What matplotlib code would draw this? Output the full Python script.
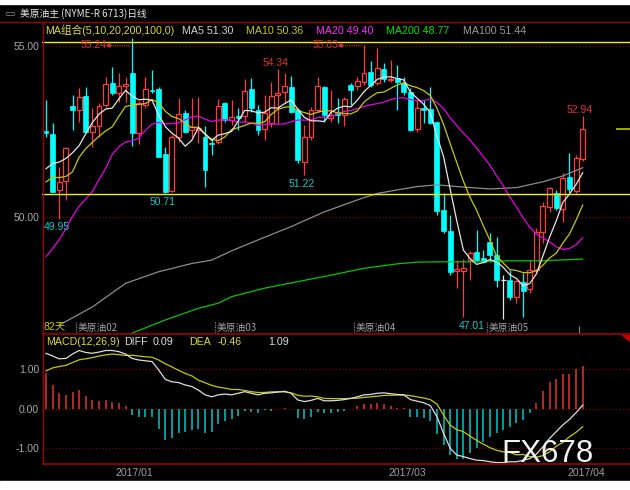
import matplotlib
matplotlib.use("Agg")
import matplotlib.pyplot as plt
from matplotlib.patches import Rectangle, Polygon
import numpy as np

# daily candles of the oil main contract, 82 days
opens = [52.52, 52.43, 50.79, 51.06, 53.25, 53.13, 53.55, 52.49, 52.66, 53.27,
         53.91, 53.63, 53.84, 54.20, 52.46, 53.27, 53.71, 53.73, 51.83, 50.77,
         52.35, 53.03, 52.54, 52.55, 52.35, 52.17, 52.20, 53.34, 52.84, 52.95,
         52.95, 53.73, 53.13, 52.56, 52.74, 53.57, 53.66, 53.79, 53.13, 51.62,
         52.35, 53.13, 53.79, 52.89, 53.05, 52.98, 53.86, 53.83, 53.96, 54.25,
         53.91, 54.32, 54.01, 54.06, 53.93, 53.66, 52.56, 53.18, 53.15, 52.79,
         50.20, 49.60, 48.43, 48.43, 48.74, 48.99, 48.79, 49.26, 48.89, 48.17,
         48.16, 47.67, 48.11, 47.89, 48.45, 49.57, 50.30, 50.69, 50.23, 51.18,
         50.77, 51.69]
highs = [53.42, 52.74, 51.47, 52.06, 53.57, 53.76, 53.81, 53.18, 53.32, 54.08,
         54.38, 54.20, 54.10, 55.24, 53.40, 54.10, 54.30, 53.81, 52.06, 52.40,
         53.47, 53.13, 53.47, 53.50, 52.66, 52.27, 53.44, 53.37, 53.42, 53.18,
         54.03, 54.06, 53.27, 53.57, 53.96, 54.34, 54.20, 54.12, 53.18, 52.69,
         53.23, 54.10, 53.83, 53.71, 53.47, 53.52, 53.93, 54.10, 55.03, 54.57,
         54.93, 54.49, 54.59, 54.44, 54.10, 53.76, 53.42, 53.42, 53.79, 52.82,
         50.69, 50.06, 48.74, 48.76, 49.01, 49.62, 49.03, 49.52, 49.42, 48.30,
         48.45, 48.16, 48.35, 48.74, 49.67, 50.45, 50.89, 50.79, 51.30, 51.88,
         51.81, 52.94]
lows = [52.35, 50.72, 49.95, 50.50, 52.54, 52.79, 52.46, 52.06, 52.35, 53.23,
        53.57, 53.37, 53.37, 52.08, 52.13, 53.18, 53.62, 51.75, 50.71, 50.74,
        52.20, 52.46, 52.35, 52.15, 50.89, 51.81, 52.13, 52.79, 52.69, 52.54,
        52.79, 53.08, 52.40, 52.25, 52.62, 52.74, 53.32, 53.03, 51.59, 51.22,
        52.25, 53.08, 52.79, 52.79, 52.74, 52.66, 53.27, 53.71, 53.86, 53.81,
        53.86, 53.96, 53.96, 53.13, 53.57, 52.52, 52.49, 52.74, 52.72, 50.06,
        49.52, 48.30, 47.92, 47.09, 48.16, 48.69, 48.65, 48.69, 47.96, 47.01,
        47.57, 47.48, 47.07, 47.79, 48.37, 49.23, 50.16, 50.20, 49.86, 50.74,
        50.69, 51.65]
closes = [52.46, 50.74, 51.03, 52.03, 53.13, 53.50, 52.49, 52.66, 53.25, 53.89,
          53.63, 53.84, 53.89, 52.45, 53.32, 53.73, 53.68, 51.76, 50.74, 52.35,
          53.01, 52.49, 52.62, 52.60, 51.37, 52.13, 53.25, 52.84, 52.92, 52.89,
          53.69, 53.18, 52.54, 53.03, 53.54, 53.63, 53.83, 53.08, 51.67, 52.35,
          53.13, 53.83, 52.98, 52.98, 52.98, 53.44, 53.71, 53.99, 54.22, 53.86,
          54.35, 54.03, 54.04, 53.96, 53.66, 52.54, 53.18, 53.13, 52.76, 50.18,
          49.60, 48.40, 48.47, 48.50, 48.96, 48.74, 48.69, 48.89, 48.16, 48.17,
          47.65, 48.14, 47.85, 48.45, 49.57, 50.32, 50.84, 50.25, 51.13, 50.81,
          51.72, 52.56]
# closes of the 19 days before the window, only needed to start MA5/10/20
prior_closes = [46.0, 45.8, 45.6, 45.9, 47.7, 48.2, 48.2, 46.3, 47.3, 45.5,
                49.4, 51.1, 51.7, 51.8, 49.2, 50.0, 50.8, 51.5, 52.3]

# long averages, read at some days
ma100_days = [2, 7, 12, 17, 22, 25, 28, 32, 37, 42, 47, 50, 56, 59, 62, 67, 71, 75, 78, 81]
ma100_vals = [46.84, 47.37, 48.06, 48.40, 48.64, 48.74, 49.01, 49.33, 49.72, 50.15,
              50.50, 50.69, 50.89, 50.94, 50.89, 50.82, 50.86, 51.03, 51.20, 51.44]
ma200_days = [11, 18, 23, 26, 28, 33, 38, 43, 48, 53, 56, 60, 65, 70, 75, 81]
ma200_vals = [46.45, 46.99, 47.33, 47.48, 47.67, 47.92, 48.11, 48.30, 48.50, 48.63,
              48.68, 48.69, 48.69, 48.72, 48.72, 48.77]

# drawn horizontal lines
level_lines = [55.13, 50.66]

# MACD(12,26,9)
diff = [1.40, 1.33, 1.26, 1.27, 1.38, 1.47, 1.42, 1.40, 1.43, 1.47,
        1.47, 1.44, 1.38, 1.27, 1.23, 1.21, 1.19, 0.98, 0.74, 0.68,
        0.66, 0.60, 0.56, 0.47, 0.35, 0.30, 0.35, 0.37, 0.35, 0.39,
        0.43, 0.39, 0.35, 0.39, 0.40, 0.42, 0.44, 0.39, 0.22, 0.18,
        0.21, 0.26, 0.20, 0.20, 0.21, 0.23, 0.26, 0.30, 0.35, 0.36,
        0.39, 0.40, 0.38, 0.36, 0.35, 0.23, 0.19, 0.15, 0.08, -0.20,
        -0.62, -1.00, -1.17, -1.21, -1.26, -1.30, -1.31, -1.34, -1.36, -1.36,
        -1.34, -1.34, -1.30, -1.26, -1.15, -0.96, -0.75, -0.58, -0.41, -0.27,
        -0.10, 0.09]
macd = [0.89, 0.60, 0.39, 0.35, 0.43, 0.47, 0.32, 0.22, 0.20, 0.22,
        0.18, 0.15, 0.07, -0.16, -0.20, -0.20, -0.22, -0.50, -0.79, -0.75,
        -0.62, -0.58, -0.54, -0.50, -0.61, -0.58, -0.39, -0.30, -0.27, -0.19,
        -0.06, -0.08, -0.12, -0.04, -0.05, -0.02, 0.03, -0.02, -0.24, -0.27,
        -0.22, -0.08, -0.12, -0.11, -0.09, -0.05, 0.0, 0.07, 0.13, 0.12,
        0.15, 0.13, 0.08, 0.03, 0.01, -0.20, -0.22, -0.24, -0.30, -0.64,
        -0.92, -1.17, -1.28, -1.26, -1.13, -1.00, -0.83, -0.71, -0.62, -0.54,
        -0.47, -0.35, -0.29, -0.10, 0.15, 0.45, 0.68, 0.74, 0.88, 0.88,
        0.99, 1.09]

contract_days = [4.5, 25.5, 46.5, 66.5]
contract_labels = ["美原油02", "美原油03", "美原油04", "美原油05"]
month_days = [13.3, 54.5, 81.5]
month_labels = ["2017/01", "2017/03", "2017/04"]

ma_legend = [("MA组合(5,10,20,200,100,0)", 45), ("MA5 51.30", 182), ("MA10 50.36", 246),
             ("MA20 49.40", 316), ("MA200 48.77", 386), ("MA100 51.44", 463)]
ma_legend_colors = ["#dcdc28", "#d2d2d2", "#c8c800", "#ff28ff", "#00e000", "#9a9a9a"]

RED = "#ff3c3c"
CYAN = "#00ffff"
FRAME = "#a00000"
GRIDC = "#8c0000"
TICKC = "#a8a8a8"
LATIN = ["Liberation Sans", "Noto Sans CJK SC"]
CJK = ["Noto Sans CJK SC", "DejaVu Sans"]

W, H = 630, 490


def box(x0, y0, x1, y1):
    return [x0 / W, 1 - y1 / H, (x1 - x0) / W, (y1 - y0) / H]


def px2day(px):
    return (px - 46) / 6.626


def py2price(py):
    return 55 - (py - 46) / 34.2


def py2macd(py):
    return (408.7 - py) / 39.6


fig = plt.figure(figsize=(6.3, 4.9), dpi=100, facecolor="black")

# ---- price panel ----
ax = fig.add_axes(box(42, 37, 630, 334), facecolor="black")
ax.set_xlim(px2day(42), px2day(630))
ax.set_ylim(py2price(334), py2price(37))
for s in ax.spines.values():
    s.set_visible(False)
ax.set_xticks([])
ax.set_yticks([50, 55])
ax.set_yticklabels(["50.00", "55.00"], family=LATIN)
ax.tick_params(axis="y", length=0, pad=2, labelcolor=TICKC, labelsize=7.5)
ax.grid(axis="y", color=GRIDC, linestyle=(0, (1, 2)), linewidth=0.8)
ax.set_axisbelow(True)

x = np.arange(len(closes))
o, h, l, c = (np.array(v) for v in (opens, highs, lows, closes))
up, down, flat = c > o, c < o, c == o
bw = 0.74
ax.vlines(x[down], l[down], h[down], color=CYAN, lw=0.9, zorder=2)
ax.bar(x[down], (o - c)[down], bottom=c[down], width=bw, color=CYAN,
       edgecolor=CYAN, lw=0.5, zorder=3)
ax.vlines(x[up], l[up], o[up], color=RED, lw=0.9, zorder=2)
ax.vlines(x[up], c[up], h[up], color=RED, lw=0.9, zorder=2)
ax.bar(x[up], (c - o)[up], bottom=o[up], width=bw, facecolor="black",
       edgecolor=RED, lw=0.9, zorder=3)
ax.vlines(x[flat], l[flat], h[flat], color="#e6e6e6", lw=0.9, zorder=2)
ax.hlines(c[flat], x[flat] - bw / 2, x[flat] + bw / 2, color="#e6e6e6", lw=0.9, zorder=3)

allc = np.array(prior_closes + closes)
n0 = len(prior_closes)


def ma(n):
    return np.array([allc[i - n + 1:i + 1].mean() for i in range(n0, len(allc))])


ax.plot(ma200_days, ma200_vals, color="#00c800", lw=0.9, zorder=4)
ax.plot(ma100_days, ma100_vals, color="#8c8c8c", lw=0.9, zorder=4)
ax.plot(x, ma(20), color="#e600e6", lw=0.9, zorder=4)
ax.plot(x, ma(10), color="#c8c800", lw=0.9, zorder=4)
ax.plot(x, ma(5), color="#e6e6e6", lw=0.9, zorder=4)
for lv in level_lines:
    ax.axhline(lv, color="#f0f000", lw=1.0, zorder=5)
ax.hlines(closes[-1], px2day(616), px2day(630), color="#b4b400", lw=1.3, zorder=5)

# high / low marks
for d in (13, 48):
    yl = py2price(44.5)
    ax.text(d - 3.9, yl, f"{highs[d]:.2f}", color="#e03232", fontsize=7.5, family=LATIN,
            ha="right", va="center", zorder=6)
    ax.plot([d - 3.6, d - 0.4], [yl, yl], color="#c83232", lw=0.8,
            linestyle=(0, (1, 1)), zorder=6)
    ax.plot([d - 3.6], [yl], marker="<", ms=2.5, color="#c83232", zorder=6)
ax.text(34.7, py2price(62.7), f"{highs[35]:.2f}", color="#e03232", fontsize=7.5,
        family=LATIN, ha="center", va="center", zorder=6)
ax.text(80.6, py2price(110), f"{highs[81]:.2f}", color="#e03232", fontsize=7.5,
        family=LATIN, ha="center", va="center", zorder=6)
for d, xp, yp in ((2, 57, 226.7), (18, 163, 201.7), (39, 302, 184)):
    ax.text(px2day(xp), py2price(yp), f"{lows[d]:.2f}", color="#1ec8c8", fontsize=7.5,
            family=LATIN, ha="center", va="center", zorder=6)
# the 47.01 low sits next to the contract label, kept just left of its tick
ax.text(px2day(485), py2price(326), f"{lows[69]:.2f}", color="#1ec8c8", fontsize=7.5,
        family=LATIN, ha="right", va="center", zorder=6)

for d, lab in zip(contract_days, contract_labels):
    ax.vlines(d, py2price(332), py2price(321), color="#8c8c8c", lw=0.8,
              linestyle=(0, (1, 1)), zorder=5)
    ax.text(d + 0.25, py2price(327.5), lab, color="#a0a0a0", fontsize=7, family=CJK,
            ha="left", va="center", zorder=5)
ax.vlines(80.5, py2price(334), py2price(326), color="#8c8c8c", lw=0.8, zorder=5)
ax.text(px2day(44), py2price(326), "82天", color="#c8c800", fontsize=7.5, family=LATIN,
        ha="left", va="center", zorder=6)

# ---- MACD panel ----
mx = fig.add_axes(box(42, 334, 630, 464), facecolor="black")
mx.set_xlim(px2day(42), px2day(630))
mx.set_ylim(py2macd(464), py2macd(334))
for s in mx.spines.values():
    s.set_visible(False)
mx.set_xticks([])
mx.set_yticks([-1, 0, 1])
mx.set_yticklabels(["-1.00", "0.00", "1.00"], family=LATIN)
mx.tick_params(axis="y", length=0, pad=2, labelcolor=TICKC, labelsize=7.5)
mx.grid(axis="y", color=GRIDC, linestyle=(0, (1, 2)), linewidth=0.8)
mx.set_axisbelow(True)

bars = np.array(macd)
dif = np.array(diff)
dea = dif - bars / 2
mx.vlines(x[bars > 0], 0, bars[bars > 0], color="#e63232", lw=1.1, zorder=2)
mx.vlines(x[bars < 0], 0, bars[bars < 0], color="#00c8c8", lw=1.1, zorder=2)
mx.plot(x, dea, color="#c8c800", lw=0.9, zorder=3)
mx.plot(x, dif, color="#dcdcdc", lw=0.9, zorder=3)
for d, lab in zip(month_days, month_labels):
    mx.text(d, -0.07, lab, transform=mx.get_xaxis_transform(), color="#a0a0a0",
            fontsize=7.5, family=LATIN, ha="center", va="center")

# ---- frame, headers, watermark (pixel coordinates) ----
ov = fig.add_axes([0, 0, 1, 1], facecolor="none")
ov.set_xlim(0, W)
ov.set_ylim(H, 0)
ov.axis("off")
ov.add_patch(Rectangle((0, 0), W, 4, color="white"))
ov.add_patch(Rectangle((0, 481), W, 9, color="white"))
ov.plot([0, W], [22.5, 22.5], color=FRAME, lw=1)
ov.plot([42.5, 42.5], [22.5, 464], color=FRAME, lw=1)
ov.plot([42.5, W], [334, 334], color=FRAME, lw=1.2)
ov.plot([42.5, W], [464, 464], color=FRAME, lw=1.2)
ov.add_patch(Polygon([[622, 335], [630, 335], [630, 341]], color="#c80000"))

ov.text(4, 14, "⊂⊃", color="#a0a0a0", fontsize=5, family="DejaVu Sans", va="center")
ov.text(20, 14, "美原油主 (NYME-R 6713)日线", color="#e6e6e6", fontsize=7, family=CJK,
        va="center")
for (txt, xp), col in zip(ma_legend, ma_legend_colors):
    ov.text(xp, 30.5, txt, color=col, fontsize=7.7, family=LATIN, va="center")

macd_legend = [("MACD(12,26,9)", 46.5, "#dcdc28"), ("DIFF", 124, "#dcdcdc"),
               ("0.09", 153, "#dcdcdc"), ("DEA", 189, "#dcdc28"),
               ("-0.46", 218, "#dcdc28"), ("1.09", 268, "#dcdcdc")]
for txt, xp, col in macd_legend:
    ov.text(xp, 341.5, txt, color=col, fontsize=7.7, family=LATIN, va="center")

ov.text(501, 454, "FX678", color="#f2f2f2", fontsize=22.5, family="Liberation Sans",
        va="center", ha="left")

fig.savefig("out.png", dpi=100, facecolor="black")
